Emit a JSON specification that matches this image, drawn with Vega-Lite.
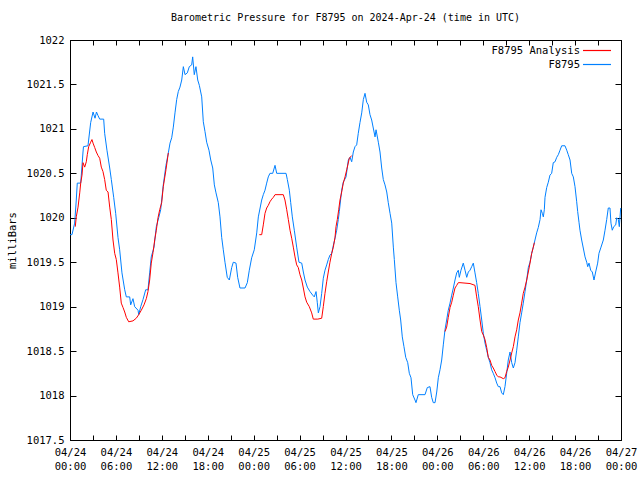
{
  "$schema": "https://vega.github.io/schema/vega-lite/v6.json",
  "width": 551,
  "height": 400,
  "autosize": {"type": "none"},
  "padding": {"left": 70, "top": 40, "right": 19, "bottom": 40},
  "title": {"text": "Barometric Pressure for F8795 on 2024-Apr-24 (time in UTC)", "font": "DejaVu Sans Mono", "fontSize": 10, "fontWeight": "normal", "color": "black", "anchor": "middle", "offset": 12},
  "data": {"values": [
{"h":0,"p":1019.81,"series":"F8795","seg":0},{"h":0.26,"p":1019.81,"series":"F8795","seg":0},{"h":0.61,"p":1019.94,"series":"F8795","seg":0},{"h":0.82,"p":1020.2,"series":"F8795","seg":0},{"h":0.95,"p":1020.39,"series":"F8795","seg":0},{"h":1.4,"p":1020.39,"series":"F8795","seg":0},{"h":1.7,"p":1020.74,"series":"F8795","seg":0},{"h":1.76,"p":1020.8,"series":"F8795","seg":0},{"h":2.35,"p":1020.81,"series":"F8795","seg":0},{"h":2.7,"p":1021.07,"series":"F8795","seg":0},{"h":3.01,"p":1021.19,"series":"F8795","seg":0},{"h":3.27,"p":1021.12,"series":"F8795","seg":0},{"h":3.46,"p":1021.19,"series":"F8795","seg":0},{"h":3.66,"p":1021.15,"series":"F8795","seg":0},{"h":3.88,"p":1021.11,"series":"F8795","seg":0},{"h":4.4,"p":1021.11,"series":"F8795","seg":0},{"h":4.53,"p":1020.95,"series":"F8795","seg":0},{"h":4.83,"p":1020.76,"series":"F8795","seg":0},{"h":5.19,"p":1020.56,"series":"F8795","seg":0},{"h":5.4,"p":1020.43,"series":"F8795","seg":0},{"h":5.71,"p":1020.23,"series":"F8795","seg":0},{"h":5.97,"p":1020.05,"series":"F8795","seg":0},{"h":6.27,"p":1019.78,"series":"F8795","seg":0},{"h":6.49,"p":1019.64,"series":"F8795","seg":0},{"h":6.79,"p":1019.38,"series":"F8795","seg":0},{"h":7.15,"p":1019.19,"series":"F8795","seg":0},{"h":7.36,"p":1019.11,"series":"F8795","seg":0},{"h":7.8,"p":1019.11,"series":"F8795","seg":0},{"h":7.93,"p":1019.02,"series":"F8795","seg":0},{"h":8.23,"p":1019.09,"series":"F8795","seg":0},{"h":8.45,"p":1019.0,"series":"F8795","seg":0},{"h":8.89,"p":1018.96,"series":"F8795","seg":0},{"h":8.98,"p":1018.91,"series":"F8795","seg":0},{"h":9.24,"p":1019.0,"series":"F8795","seg":0},{"h":9.54,"p":1019.08,"series":"F8795","seg":0},{"h":9.89,"p":1019.19,"series":"F8795","seg":0},{"h":10.19,"p":1019.19,"series":"F8795","seg":0},{"h":10.41,"p":1019.38,"series":"F8795","seg":0},{"h":10.62,"p":1019.56,"series":"F8795","seg":0},{"h":10.98,"p":1019.67,"series":"F8795","seg":0},{"h":11.28,"p":1019.9,"series":"F8795","seg":0},{"h":11.59,"p":1020.0,"series":"F8795","seg":0},{"h":11.85,"p":1020.09,"series":"F8795","seg":0},{"h":12.19,"p":1020.37,"series":"F8795","seg":0},{"h":12.54,"p":1020.59,"series":"F8795","seg":0},{"h":12.85,"p":1020.73,"series":"F8795","seg":0},{"h":13.07,"p":1020.84,"series":"F8795","seg":0},{"h":13.29,"p":1020.9,"series":"F8795","seg":0},{"h":13.5,"p":1021.02,"series":"F8795","seg":0},{"h":13.72,"p":1021.18,"series":"F8795","seg":0},{"h":13.94,"p":1021.33,"series":"F8795","seg":0},{"h":14.15,"p":1021.42,"series":"F8795","seg":0},{"h":14.37,"p":1021.47,"series":"F8795","seg":0},{"h":14.6,"p":1021.55,"series":"F8795","seg":0},{"h":14.81,"p":1021.7,"series":"F8795","seg":0},{"h":15.03,"p":1021.61,"series":"F8795","seg":0},{"h":15.33,"p":1021.63,"series":"F8795","seg":0},{"h":15.59,"p":1021.7,"series":"F8795","seg":0},{"h":15.9,"p":1021.72,"series":"F8795","seg":0},{"h":16.03,"p":1021.81,"series":"F8795","seg":0},{"h":16.24,"p":1021.61,"series":"F8795","seg":0},{"h":16.46,"p":1021.7,"series":"F8795","seg":0},{"h":16.69,"p":1021.55,"series":"F8795","seg":0},{"h":16.9,"p":1021.49,"series":"F8795","seg":0},{"h":17.21,"p":1021.36,"series":"F8795","seg":0},{"h":17.42,"p":1021.08,"series":"F8795","seg":0},{"h":17.64,"p":1020.97,"series":"F8795","seg":0},{"h":17.86,"p":1020.85,"series":"F8795","seg":0},{"h":18.16,"p":1020.76,"series":"F8795","seg":0},{"h":18.39,"p":1020.65,"series":"F8795","seg":0},{"h":18.65,"p":1020.56,"series":"F8795","seg":0},{"h":18.86,"p":1020.37,"series":"F8795","seg":0},{"h":19.08,"p":1020.28,"series":"F8795","seg":0},{"h":19.38,"p":1020.17,"series":"F8795","seg":0},{"h":19.6,"p":1020.01,"series":"F8795","seg":0},{"h":19.82,"p":1019.78,"series":"F8795","seg":0},{"h":20.03,"p":1019.64,"series":"F8795","seg":0},{"h":20.25,"p":1019.5,"series":"F8795","seg":0},{"h":20.55,"p":1019.33,"series":"F8795","seg":0},{"h":20.82,"p":1019.3,"series":"F8795","seg":0},{"h":21.13,"p":1019.44,"series":"F8795","seg":0},{"h":21.34,"p":1019.5,"series":"F8795","seg":0},{"h":21.69,"p":1019.49,"series":"F8795","seg":0},{"h":21.91,"p":1019.33,"series":"F8795","seg":0},{"h":22.21,"p":1019.21,"series":"F8795","seg":0},{"h":22.87,"p":1019.21,"series":"F8795","seg":0},{"h":23.17,"p":1019.27,"series":"F8795","seg":0},{"h":23.43,"p":1019.41,"series":"F8795","seg":0},{"h":23.74,"p":1019.55,"series":"F8795","seg":0},{"h":24.08,"p":1019.64,"series":"F8795","seg":0},{"h":24.4,"p":1019.83,"series":"F8795","seg":0},{"h":24.61,"p":1020.01,"series":"F8795","seg":0},{"h":25.05,"p":1020.2,"series":"F8795","seg":0},{"h":25.26,"p":1020.26,"series":"F8795","seg":0},{"h":25.48,"p":1020.31,"series":"F8795","seg":0},{"h":25.7,"p":1020.39,"series":"F8795","seg":0},{"h":25.91,"p":1020.46,"series":"F8795","seg":0},{"h":26.13,"p":1020.5,"series":"F8795","seg":0},{"h":26.49,"p":1020.5,"series":"F8795","seg":0},{"h":26.79,"p":1020.59,"series":"F8795","seg":0},{"h":27.01,"p":1020.5,"series":"F8795","seg":0},{"h":28.23,"p":1020.5,"series":"F8795","seg":0},{"h":28.4,"p":1020.43,"series":"F8795","seg":0},{"h":28.66,"p":1020.31,"series":"F8795","seg":0},{"h":28.84,"p":1020.17,"series":"F8795","seg":0},{"h":29.05,"p":1020.01,"series":"F8795","seg":0},{"h":29.31,"p":1019.86,"series":"F8795","seg":0},{"h":29.62,"p":1019.67,"series":"F8795","seg":0},{"h":29.92,"p":1019.5,"series":"F8795","seg":0},{"h":30.28,"p":1019.49,"series":"F8795","seg":0},{"h":30.49,"p":1019.39,"series":"F8795","seg":0},{"h":30.71,"p":1019.3,"series":"F8795","seg":0},{"h":31.01,"p":1019.22,"series":"F8795","seg":0},{"h":31.36,"p":1019.17,"series":"F8795","seg":0},{"h":31.71,"p":1019.13,"series":"F8795","seg":0},{"h":31.92,"p":1019.11,"series":"F8795","seg":0},{"h":32.15,"p":1019.17,"series":"F8795","seg":0},{"h":32.31,"p":1019.05,"series":"F8795","seg":0},{"h":32.45,"p":1018.93,"series":"F8795","seg":0},{"h":32.67,"p":1019.0,"series":"F8795","seg":0},{"h":32.89,"p":1019.15,"series":"F8795","seg":0},{"h":33.1,"p":1019.32,"series":"F8795","seg":0},{"h":33.32,"p":1019.41,"series":"F8795","seg":0},{"h":33.54,"p":1019.47,"series":"F8795","seg":0},{"h":33.75,"p":1019.53,"series":"F8795","seg":0},{"h":33.97,"p":1019.58,"series":"F8795","seg":0},{"h":34.2,"p":1019.6,"series":"F8795","seg":0},{"h":34.41,"p":1019.69,"series":"F8795","seg":0},{"h":34.63,"p":1019.77,"series":"F8795","seg":0},{"h":34.85,"p":1019.86,"series":"F8795","seg":0},{"h":35.06,"p":1019.98,"series":"F8795","seg":0},{"h":35.19,"p":1020.07,"series":"F8795","seg":0},{"h":35.5,"p":1020.31,"series":"F8795","seg":0},{"h":35.71,"p":1020.4,"series":"F8795","seg":0},{"h":36.07,"p":1020.46,"series":"F8795","seg":0},{"h":36.37,"p":1020.65,"series":"F8795","seg":0},{"h":36.59,"p":1020.68,"series":"F8795","seg":0},{"h":36.81,"p":1020.63,"series":"F8795","seg":0},{"h":37.02,"p":1020.74,"series":"F8795","seg":0},{"h":37.24,"p":1020.8,"series":"F8795","seg":0},{"h":37.46,"p":1020.82,"series":"F8795","seg":0},{"h":37.67,"p":1020.95,"series":"F8795","seg":0},{"h":37.89,"p":1021.07,"series":"F8795","seg":0},{"h":38.12,"p":1021.18,"series":"F8795","seg":0},{"h":38.33,"p":1021.33,"series":"F8795","seg":0},{"h":38.55,"p":1021.4,"series":"F8795","seg":0},{"h":38.77,"p":1021.3,"series":"F8795","seg":0},{"h":38.98,"p":1021.27,"series":"F8795","seg":0},{"h":39.2,"p":1021.16,"series":"F8795","seg":0},{"h":39.42,"p":1021.1,"series":"F8795","seg":0},{"h":39.63,"p":1021.01,"series":"F8795","seg":0},{"h":39.86,"p":1020.91,"series":"F8795","seg":0},{"h":39.99,"p":1020.99,"series":"F8795","seg":0},{"h":40.29,"p":1020.85,"series":"F8795","seg":0},{"h":40.51,"p":1020.74,"series":"F8795","seg":0},{"h":40.73,"p":1020.56,"series":"F8795","seg":0},{"h":40.94,"p":1020.43,"series":"F8795","seg":0},{"h":41.16,"p":1020.37,"series":"F8795","seg":0},{"h":41.39,"p":1020.29,"series":"F8795","seg":0},{"h":41.59,"p":1020.17,"series":"F8795","seg":0},{"h":41.82,"p":1020.05,"series":"F8795","seg":0},{"h":42.04,"p":1019.94,"series":"F8795","seg":0},{"h":42.25,"p":1019.67,"series":"F8795","seg":0},{"h":42.38,"p":1019.53,"series":"F8795","seg":0},{"h":42.6,"p":1019.27,"series":"F8795","seg":0},{"h":42.82,"p":1019.11,"series":"F8795","seg":0},{"h":43.03,"p":1018.96,"series":"F8795","seg":0},{"h":43.21,"p":1018.85,"series":"F8795","seg":0},{"h":43.42,"p":1018.66,"series":"F8795","seg":0},{"h":43.64,"p":1018.55,"series":"F8795","seg":0},{"h":43.87,"p":1018.43,"series":"F8795","seg":0},{"h":44.13,"p":1018.37,"series":"F8795","seg":0},{"h":44.34,"p":1018.25,"series":"F8795","seg":0},{"h":44.56,"p":1018.2,"series":"F8795","seg":0},{"h":44.78,"p":1018.01,"series":"F8795","seg":0},{"h":45.08,"p":1017.95,"series":"F8795","seg":0},{"h":45.21,"p":1017.92,"series":"F8795","seg":0},{"h":45.51,"p":1018.01,"series":"F8795","seg":0},{"h":46.39,"p":1018.01,"series":"F8795","seg":0},{"h":46.69,"p":1018.09,"series":"F8795","seg":0},{"h":47.04,"p":1018.1,"series":"F8795","seg":0},{"h":47.26,"p":1017.98,"series":"F8795","seg":0},{"h":47.47,"p":1017.92,"series":"F8795","seg":0},{"h":47.7,"p":1017.92,"series":"F8795","seg":0},{"h":47.92,"p":1018.04,"series":"F8795","seg":0},{"h":48.13,"p":1018.2,"series":"F8795","seg":0},{"h":48.35,"p":1018.29,"series":"F8795","seg":0},{"h":48.57,"p":1018.4,"series":"F8795","seg":0},{"h":48.78,"p":1018.57,"series":"F8795","seg":0},{"h":49.0,"p":1018.74,"series":"F8795","seg":0},{"h":49.22,"p":1018.85,"series":"F8795","seg":0},{"h":49.43,"p":1018.96,"series":"F8795","seg":0},{"h":49.66,"p":1019.04,"series":"F8795","seg":0},{"h":49.88,"p":1019.13,"series":"F8795","seg":0},{"h":50.09,"p":1019.21,"series":"F8795","seg":0},{"h":50.31,"p":1019.3,"series":"F8795","seg":0},{"h":50.53,"p":1019.38,"series":"F8795","seg":0},{"h":50.74,"p":1019.41,"series":"F8795","seg":0},{"h":50.87,"p":1019.33,"series":"F8795","seg":0},{"h":51.09,"p":1019.41,"series":"F8795","seg":0},{"h":51.39,"p":1019.49,"series":"F8795","seg":0},{"h":51.62,"p":1019.41,"series":"F8795","seg":0},{"h":51.84,"p":1019.33,"series":"F8795","seg":0},{"h":52.05,"p":1019.39,"series":"F8795","seg":0},{"h":52.27,"p":1019.41,"series":"F8795","seg":0},{"h":52.49,"p":1019.45,"series":"F8795","seg":0},{"h":52.7,"p":1019.49,"series":"F8795","seg":0},{"h":52.92,"p":1019.38,"series":"F8795","seg":0},{"h":53.14,"p":1019.27,"series":"F8795","seg":0},{"h":53.35,"p":1019.15,"series":"F8795","seg":0},{"h":53.58,"p":1019.0,"series":"F8795","seg":0},{"h":53.8,"p":1018.85,"series":"F8795","seg":0},{"h":54.01,"p":1018.7,"series":"F8795","seg":0},{"h":54.23,"p":1018.59,"series":"F8795","seg":0},{"h":54.45,"p":1018.51,"series":"F8795","seg":0},{"h":54.66,"p":1018.43,"series":"F8795","seg":0},{"h":54.88,"p":1018.37,"series":"F8795","seg":0},{"h":55.1,"p":1018.29,"series":"F8795","seg":0},{"h":55.31,"p":1018.25,"series":"F8795","seg":0},{"h":55.54,"p":1018.2,"series":"F8795","seg":0},{"h":55.76,"p":1018.14,"series":"F8795","seg":0},{"h":55.97,"p":1018.1,"series":"F8795","seg":0},{"h":56.19,"p":1018.1,"series":"F8795","seg":0},{"h":56.41,"p":1018.03,"series":"F8795","seg":0},{"h":56.62,"p":1018.01,"series":"F8795","seg":0},{"h":56.84,"p":1018.1,"series":"F8795","seg":0},{"h":57.06,"p":1018.25,"series":"F8795","seg":0},{"h":57.27,"p":1018.4,"series":"F8795","seg":0},{"h":57.5,"p":1018.49,"series":"F8795","seg":0},{"h":57.72,"p":1018.37,"series":"F8795","seg":0},{"h":57.93,"p":1018.31,"series":"F8795","seg":0},{"h":58.15,"p":1018.37,"series":"F8795","seg":0},{"h":58.37,"p":1018.51,"series":"F8795","seg":0},{"h":58.58,"p":1018.66,"series":"F8795","seg":0},{"h":58.8,"p":1018.82,"series":"F8795","seg":0},{"h":59.02,"p":1018.93,"series":"F8795","seg":0},{"h":59.23,"p":1019.04,"series":"F8795","seg":0},{"h":59.46,"p":1019.17,"series":"F8795","seg":0},{"h":59.68,"p":1019.3,"series":"F8795","seg":0},{"h":59.89,"p":1019.44,"series":"F8795","seg":0},{"h":60.11,"p":1019.5,"series":"F8795","seg":0},{"h":60.33,"p":1019.6,"series":"F8795","seg":0},{"h":60.54,"p":1019.67,"series":"F8795","seg":0},{"h":60.76,"p":1019.75,"series":"F8795","seg":0},{"h":60.98,"p":1019.83,"series":"F8795","seg":0},{"h":61.19,"p":1019.89,"series":"F8795","seg":0},{"h":61.42,"p":1019.98,"series":"F8795","seg":0},{"h":61.55,"p":1020.09,"series":"F8795","seg":0},{"h":61.72,"p":1020.05,"series":"F8795","seg":0},{"h":61.85,"p":1020.01,"series":"F8795","seg":0},{"h":61.98,"p":1020.09,"series":"F8795","seg":0},{"h":62.07,"p":1020.23,"series":"F8795","seg":0},{"h":62.29,"p":1020.34,"series":"F8795","seg":0},{"h":62.5,"p":1020.4,"series":"F8795","seg":0},{"h":62.72,"p":1020.48,"series":"F8795","seg":0},{"h":62.94,"p":1020.5,"series":"F8795","seg":0},{"h":63.15,"p":1020.62,"series":"F8795","seg":0},{"h":63.38,"p":1020.63,"series":"F8795","seg":0},{"h":63.6,"p":1020.68,"series":"F8795","seg":0},{"h":63.81,"p":1020.71,"series":"F8795","seg":0},{"h":64.03,"p":1020.76,"series":"F8795","seg":0},{"h":64.25,"p":1020.81,"series":"F8795","seg":0},{"h":64.68,"p":1020.81,"series":"F8795","seg":0},{"h":64.91,"p":1020.76,"series":"F8795","seg":0},{"h":65.11,"p":1020.71,"series":"F8795","seg":0},{"h":65.34,"p":1020.65,"series":"F8795","seg":0},{"h":65.56,"p":1020.5,"series":"F8795","seg":0},{"h":65.77,"p":1020.46,"series":"F8795","seg":0},{"h":65.99,"p":1020.35,"series":"F8795","seg":0},{"h":66.21,"p":1020.18,"series":"F8795","seg":0},{"h":66.34,"p":1020.07,"series":"F8795","seg":0},{"h":66.51,"p":1019.95,"series":"F8795","seg":0},{"h":66.64,"p":1019.86,"series":"F8795","seg":0},{"h":66.86,"p":1019.75,"series":"F8795","seg":0},{"h":67.07,"p":1019.66,"series":"F8795","seg":0},{"h":67.3,"p":1019.56,"series":"F8795","seg":0},{"h":67.52,"p":1019.5,"series":"F8795","seg":0},{"h":67.65,"p":1019.45,"series":"F8795","seg":0},{"h":67.82,"p":1019.49,"series":"F8795","seg":0},{"h":68.04,"p":1019.41,"series":"F8795","seg":0},{"h":68.25,"p":1019.39,"series":"F8795","seg":0},{"h":68.47,"p":1019.3,"series":"F8795","seg":0},{"h":68.69,"p":1019.39,"series":"F8795","seg":0},{"h":68.95,"p":1019.49,"series":"F8795","seg":0},{"h":69.12,"p":1019.6,"series":"F8795","seg":0},{"h":69.39,"p":1019.67,"series":"F8795","seg":0},{"h":69.69,"p":1019.75,"series":"F8795","seg":0},{"h":69.91,"p":1019.86,"series":"F8795","seg":0},{"h":70.13,"p":1019.98,"series":"F8795","seg":0},{"h":70.34,"p":1020.11,"series":"F8795","seg":0},{"h":70.56,"p":1020.11,"series":"F8795","seg":0},{"h":70.69,"p":1019.94,"series":"F8795","seg":0},{"h":70.86,"p":1019.86,"series":"F8795","seg":0},{"h":71.05,"p":1019.9,"series":"F8795","seg":0},{"h":71.31,"p":1019.92,"series":"F8795","seg":0},{"h":71.44,"p":1020.0,"series":"F8795","seg":0},{"h":71.65,"p":1019.98,"series":"F8795","seg":0},{"h":71.78,"p":1019.9,"series":"F8795","seg":0},{"h":71.96,"p":1020.11,"series":"F8795","seg":0},
{"h":0.69,"p":1019.9,"series":"F8795 Analysis","seg":1},{"h":0.82,"p":1020.01,"series":"F8795 Analysis","seg":1},{"h":1.05,"p":1020.12,"series":"F8795 Analysis","seg":1},{"h":1.27,"p":1020.28,"series":"F8795 Analysis","seg":1},{"h":1.4,"p":1020.39,"series":"F8795 Analysis","seg":1},{"h":1.57,"p":1020.48,"series":"F8795 Analysis","seg":1},{"h":1.7,"p":1020.62,"series":"F8795 Analysis","seg":1},{"h":1.92,"p":1020.57,"series":"F8795 Analysis","seg":1},{"h":2.13,"p":1020.63,"series":"F8795 Analysis","seg":1},{"h":2.26,"p":1020.71,"series":"F8795 Analysis","seg":1},{"h":2.44,"p":1020.8,"series":"F8795 Analysis","seg":1},{"h":2.7,"p":1020.85,"series":"F8795 Analysis","seg":1},{"h":2.87,"p":1020.88,"series":"F8795 Analysis","seg":1},{"h":3.01,"p":1020.84,"series":"F8795 Analysis","seg":1},{"h":3.23,"p":1020.79,"series":"F8795 Analysis","seg":1},{"h":3.44,"p":1020.74,"series":"F8795 Analysis","seg":1},{"h":3.66,"p":1020.7,"series":"F8795 Analysis","seg":1},{"h":3.88,"p":1020.67,"series":"F8795 Analysis","seg":1},{"h":4.09,"p":1020.57,"series":"F8795 Analysis","seg":1},{"h":4.31,"p":1020.52,"series":"F8795 Analysis","seg":1},{"h":4.53,"p":1020.43,"series":"F8795 Analysis","seg":1},{"h":4.74,"p":1020.31,"series":"F8795 Analysis","seg":1},{"h":4.97,"p":1020.29,"series":"F8795 Analysis","seg":1},{"h":5.19,"p":1020.12,"series":"F8795 Analysis","seg":1},{"h":5.4,"p":1019.98,"series":"F8795 Analysis","seg":1},{"h":5.62,"p":1019.75,"series":"F8795 Analysis","seg":1},{"h":5.84,"p":1019.6,"series":"F8795 Analysis","seg":1},{"h":6.05,"p":1019.53,"series":"F8795 Analysis","seg":1},{"h":6.27,"p":1019.38,"series":"F8795 Analysis","seg":1},{"h":6.49,"p":1019.22,"series":"F8795 Analysis","seg":1},{"h":6.7,"p":1019.04,"series":"F8795 Analysis","seg":1},{"h":6.93,"p":1018.99,"series":"F8795 Analysis","seg":1},{"h":7.15,"p":1018.94,"series":"F8795 Analysis","seg":1},{"h":7.36,"p":1018.88,"series":"F8795 Analysis","seg":1},{"h":7.67,"p":1018.83,"series":"F8795 Analysis","seg":1},{"h":8.23,"p":1018.84,"series":"F8795 Analysis","seg":1},{"h":8.66,"p":1018.87,"series":"F8795 Analysis","seg":1},{"h":8.98,"p":1018.91,"series":"F8795 Analysis","seg":1},{"h":9.32,"p":1018.96,"series":"F8795 Analysis","seg":1},{"h":9.67,"p":1019.02,"series":"F8795 Analysis","seg":1},{"h":9.97,"p":1019.09,"series":"F8795 Analysis","seg":1},{"h":10.19,"p":1019.17,"series":"F8795 Analysis","seg":1},{"h":10.41,"p":1019.3,"series":"F8795 Analysis","seg":1},{"h":10.62,"p":1019.49,"series":"F8795 Analysis","seg":1},{"h":10.85,"p":1019.61,"series":"F8795 Analysis","seg":1},{"h":11.07,"p":1019.75,"series":"F8795 Analysis","seg":1},{"h":11.28,"p":1019.86,"series":"F8795 Analysis","seg":1},{"h":11.5,"p":1020.0,"series":"F8795 Analysis","seg":1},{"h":11.72,"p":1020.09,"series":"F8795 Analysis","seg":1},{"h":11.98,"p":1020.17,"series":"F8795 Analysis","seg":1},{"h":12.19,"p":1020.35,"series":"F8795 Analysis","seg":1},{"h":12.54,"p":1020.54,"series":"F8795 Analysis","seg":1},{"h":12.85,"p":1020.73,"series":"F8795 Analysis","seg":1},
{"h":24.74,"p":1019.81,"series":"F8795 Analysis","seg":2},{"h":25.05,"p":1019.81,"series":"F8795 Analysis","seg":2},{"h":25.26,"p":1019.92,"series":"F8795 Analysis","seg":2},{"h":25.48,"p":1020.05,"series":"F8795 Analysis","seg":2},{"h":25.7,"p":1020.11,"series":"F8795 Analysis","seg":2},{"h":25.91,"p":1020.14,"series":"F8795 Analysis","seg":2},{"h":26.13,"p":1020.18,"series":"F8795 Analysis","seg":2},{"h":26.36,"p":1020.21,"series":"F8795 Analysis","seg":2},{"h":26.57,"p":1020.23,"series":"F8795 Analysis","seg":2},{"h":26.79,"p":1020.26,"series":"F8795 Analysis","seg":2},{"h":27.87,"p":1020.26,"series":"F8795 Analysis","seg":2},{"h":28.09,"p":1020.2,"series":"F8795 Analysis","seg":2},{"h":28.32,"p":1020.09,"series":"F8795 Analysis","seg":2},{"h":28.53,"p":1019.98,"series":"F8795 Analysis","seg":2},{"h":28.75,"p":1019.86,"series":"F8795 Analysis","seg":2},{"h":28.97,"p":1019.77,"series":"F8795 Analysis","seg":2},{"h":29.18,"p":1019.67,"series":"F8795 Analysis","seg":2},{"h":29.4,"p":1019.56,"series":"F8795 Analysis","seg":2},{"h":29.62,"p":1019.47,"series":"F8795 Analysis","seg":2},{"h":29.83,"p":1019.44,"series":"F8795 Analysis","seg":2},{"h":30.05,"p":1019.36,"series":"F8795 Analysis","seg":2},{"h":30.28,"p":1019.3,"series":"F8795 Analysis","seg":2},{"h":30.49,"p":1019.21,"series":"F8795 Analysis","seg":2},{"h":30.71,"p":1019.11,"series":"F8795 Analysis","seg":2},{"h":30.93,"p":1019.05,"series":"F8795 Analysis","seg":2},{"h":31.27,"p":1019.0,"series":"F8795 Analysis","seg":2},{"h":31.58,"p":1018.93,"series":"F8795 Analysis","seg":2},{"h":31.79,"p":1018.86,"series":"F8795 Analysis","seg":2},{"h":32.37,"p":1018.86,"series":"F8795 Analysis","seg":2},{"h":32.89,"p":1018.87,"series":"F8795 Analysis","seg":2},{"h":33.1,"p":1019.0,"series":"F8795 Analysis","seg":2},{"h":33.32,"p":1019.15,"series":"F8795 Analysis","seg":2},{"h":33.54,"p":1019.28,"series":"F8795 Analysis","seg":2},{"h":33.75,"p":1019.39,"series":"F8795 Analysis","seg":2},{"h":33.97,"p":1019.5,"series":"F8795 Analysis","seg":2},{"h":34.2,"p":1019.6,"series":"F8795 Analysis","seg":2},{"h":34.41,"p":1019.67,"series":"F8795 Analysis","seg":2},{"h":34.63,"p":1019.78,"series":"F8795 Analysis","seg":2},{"h":34.76,"p":1019.9,"series":"F8795 Analysis","seg":2},{"h":34.93,"p":1019.98,"series":"F8795 Analysis","seg":2},{"h":35.11,"p":1020.09,"series":"F8795 Analysis","seg":2},{"h":35.28,"p":1020.2,"series":"F8795 Analysis","seg":2},{"h":35.5,"p":1020.29,"series":"F8795 Analysis","seg":2},{"h":35.71,"p":1020.39,"series":"F8795 Analysis","seg":2},{"h":35.94,"p":1020.46,"series":"F8795 Analysis","seg":2},{"h":36.16,"p":1020.54,"series":"F8795 Analysis","seg":2},{"h":36.5,"p":1020.67,"series":"F8795 Analysis","seg":2},{"h":36.81,"p":1020.7,"series":"F8795 Analysis","seg":2},
{"h":49.0,"p":1018.72,"series":"F8795 Analysis","seg":3},{"h":49.22,"p":1018.77,"series":"F8795 Analysis","seg":3},{"h":49.43,"p":1018.88,"series":"F8795 Analysis","seg":3},{"h":49.66,"p":1018.99,"series":"F8795 Analysis","seg":3},{"h":49.88,"p":1019.05,"series":"F8795 Analysis","seg":3},{"h":50.09,"p":1019.13,"series":"F8795 Analysis","seg":3},{"h":50.31,"p":1019.21,"series":"F8795 Analysis","seg":3},{"h":50.53,"p":1019.24,"series":"F8795 Analysis","seg":3},{"h":50.74,"p":1019.27,"series":"F8795 Analysis","seg":3},{"h":50.96,"p":1019.27,"series":"F8795 Analysis","seg":3},{"h":52.27,"p":1019.26,"series":"F8795 Analysis","seg":3},{"h":52.92,"p":1019.24,"series":"F8795 Analysis","seg":3},{"h":53.14,"p":1019.11,"series":"F8795 Analysis","seg":3},{"h":53.35,"p":1019.0,"series":"F8795 Analysis","seg":3},{"h":53.58,"p":1018.85,"series":"F8795 Analysis","seg":3},{"h":53.8,"p":1018.72,"series":"F8795 Analysis","seg":3},{"h":54.01,"p":1018.68,"series":"F8795 Analysis","seg":3},{"h":54.23,"p":1018.63,"series":"F8795 Analysis","seg":3},{"h":54.45,"p":1018.54,"series":"F8795 Analysis","seg":3},{"h":54.66,"p":1018.43,"series":"F8795 Analysis","seg":3},{"h":54.88,"p":1018.4,"series":"F8795 Analysis","seg":3},{"h":55.1,"p":1018.34,"series":"F8795 Analysis","seg":3},{"h":55.31,"p":1018.31,"series":"F8795 Analysis","seg":3},{"h":55.54,"p":1018.27,"series":"F8795 Analysis","seg":3},{"h":55.76,"p":1018.23,"series":"F8795 Analysis","seg":3},{"h":55.97,"p":1018.21,"series":"F8795 Analysis","seg":3},{"h":56.19,"p":1018.21,"series":"F8795 Analysis","seg":3},{"h":56.62,"p":1018.19,"series":"F8795 Analysis","seg":3},{"h":56.84,"p":1018.2,"series":"F8795 Analysis","seg":3},{"h":57.06,"p":1018.27,"series":"F8795 Analysis","seg":3},{"h":57.27,"p":1018.32,"series":"F8795 Analysis","seg":3},{"h":57.5,"p":1018.4,"series":"F8795 Analysis","seg":3},{"h":57.72,"p":1018.48,"series":"F8795 Analysis","seg":3},{"h":57.93,"p":1018.55,"series":"F8795 Analysis","seg":3},{"h":58.15,"p":1018.66,"series":"F8795 Analysis","seg":3},{"h":58.37,"p":1018.74,"series":"F8795 Analysis","seg":3},{"h":58.58,"p":1018.85,"series":"F8795 Analysis","seg":3},{"h":58.8,"p":1018.93,"series":"F8795 Analysis","seg":3},{"h":59.02,"p":1019.04,"series":"F8795 Analysis","seg":3},{"h":59.23,"p":1019.15,"series":"F8795 Analysis","seg":3},{"h":59.46,"p":1019.22,"series":"F8795 Analysis","seg":3},{"h":59.68,"p":1019.3,"series":"F8795 Analysis","seg":3},{"h":59.89,"p":1019.39,"series":"F8795 Analysis","seg":3},{"h":60.11,"p":1019.49,"series":"F8795 Analysis","seg":3},{"h":60.33,"p":1019.6,"series":"F8795 Analysis","seg":3},{"h":60.54,"p":1019.67,"series":"F8795 Analysis","seg":3},{"h":60.68,"p":1019.72,"series":"F8795 Analysis","seg":3}
  ]},
  "layer": [
    {
      "mark": {"type": "line", "strokeWidth": 1, "interpolate": "linear"},
      "encoding": {
        "x": {"field": "h", "type": "quantitative", "scale": {"domain": [0, 72], "nice": false},
          "axis": {"orient": "bottom", "title": null, "values": [0,3,6,9,12,15,18,21,24,27,30,33,36,39,42,45,48,51,54,57,60,63,66,69,72],
            "labelExpr": "datum.value % 6 == 0 ? ['04/' + (24 + floor(datum.value / 24)), (datum.value % 24 < 10 ? '0' : '') + (datum.value % 24) + ':00'] : ''",
            "tickSize": -5, "labelPadding": 12, "labelLineHeight": 14}},
        "y": {"field": "p", "type": "quantitative", "scale": {"domain": [1017.5, 1022], "zero": false, "nice": false},
          "axis": {"orient": "left", "title": "milliBars", "values": [1017.5,1018,1018.5,1019,1019.5,1020,1020.5,1021,1021.5,1022], "format": ".1~f", "tickSize": -6, "labelPadding": 12, "titleX": -58, "titleY": 200, "titleAngle": -90, "titleAlign": "center", "titleBaseline": "middle"}},
        "color": {"field": "series", "type": "nominal", "scale": {"domain": ["F8795 Analysis", "F8795"], "range": ["#ff0000", "#0080ff"]},
          "legend": {"orient": "none", "legendX": 519, "legendY": 2.5, "title": null, "symbolType": "M-2,0H2", "symbolSize": 196, "symbolStrokeWidth": 1.2, "symbolFillColor": "transparent", "symbolOpacity": 1, "padding": 0, "rowPadding": -1, "labelAlign": "right", "labelOffset": -25}},
        "detail": {"field": "seg"},
        "order": {"field": "seg"}
      }
    },
    {
      "mark": {"type": "line", "opacity": 0},
      "encoding": {
        "x": {"field": "h", "type": "quantitative", "axis": {"orient": "top", "title": null, "labels": false, "values": [0,3,6,9,12,15,18,21,24,27,30,33,36,39,42,45,48,51,54,57,60,63,66,69,72], "tickSize": -5}},
        "y": {"field": "p", "type": "quantitative", "axis": {"orient": "right", "title": null, "labels": false, "values": [1017.5,1018,1018.5,1019,1019.5,1020,1020.5,1021,1021.5,1022], "tickSize": -6}},
        "detail": {"field": "seg"}
      }
    }
  ],
  "resolve": {"axis": {"x": "independent", "y": "independent"}},
  "config": {
    "font": "DejaVu Sans Mono",
    "view": {"stroke": "black", "strokeWidth": 1},
    "axis": {"grid": false, "domainColor": "black", "tickColor": "black", "labelColor": "black", "titleColor": "black", "labelFont": "DejaVu Sans Mono", "titleFont": "DejaVu Sans Mono", "labelFontSize": 10.5, "titleFontSize": 10.5, "titleFontWeight": "normal", "labelOverlap": false, "labelFlush": false, "labelBound": false},
    "legend": {"labelFont": "DejaVu Sans Mono", "labelFontSize": 10.5, "labelColor": "black"}
  }
}
